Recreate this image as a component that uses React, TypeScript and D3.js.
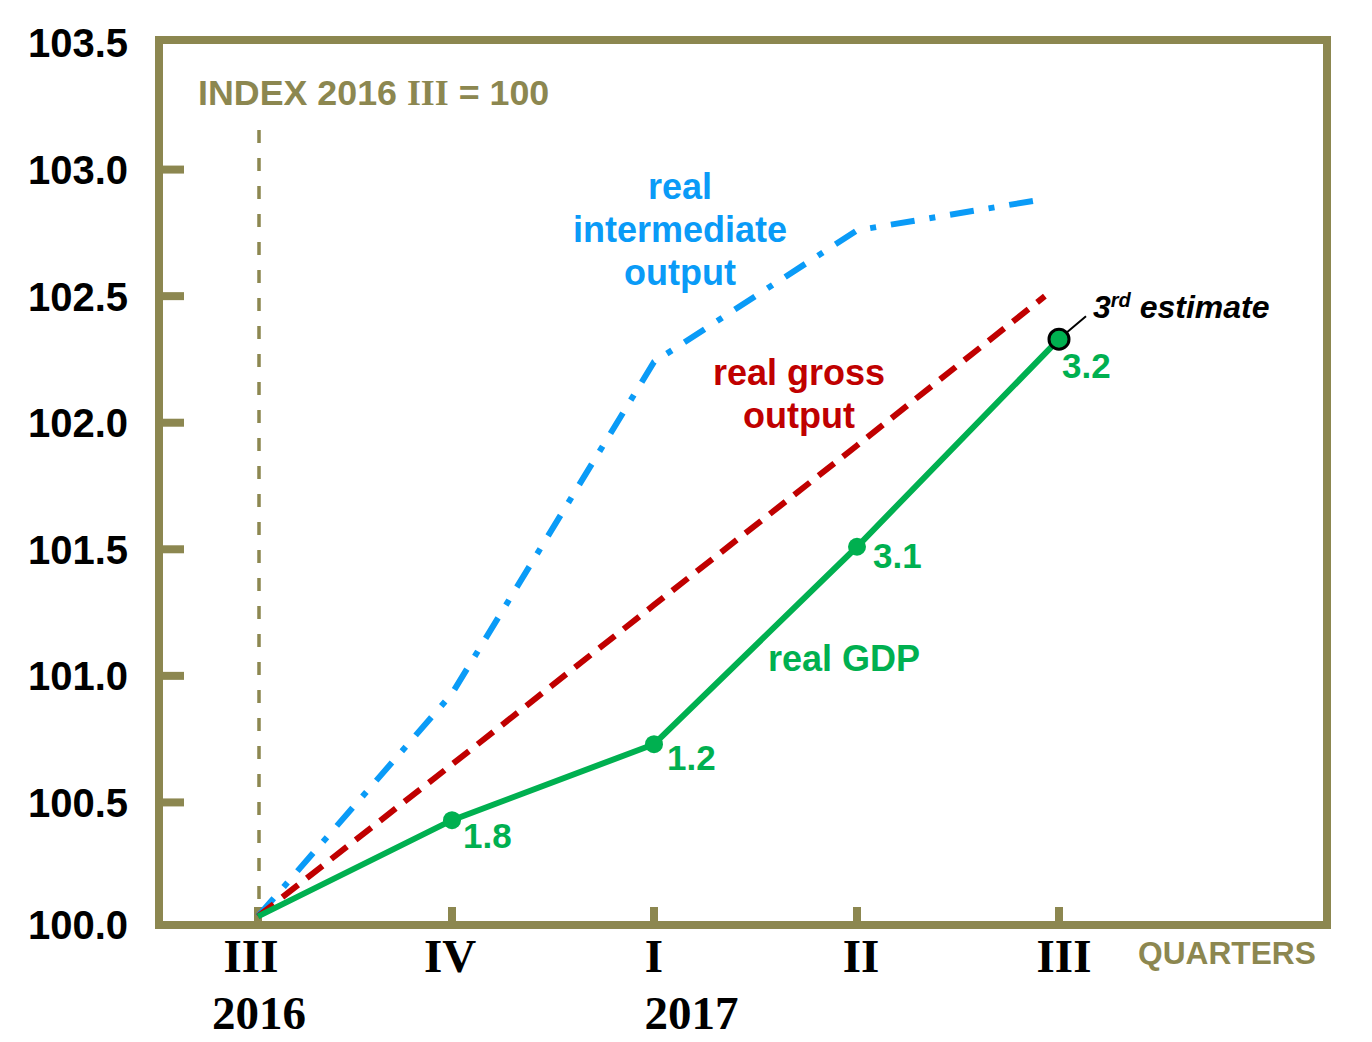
// GDP vs gross output vs intermediate output, index 2016 III = 100
import React, { useRef, useEffect } from 'react';
import * as d3 from 'd3';

interface point {
  q: number; // quarter index (0 = 2016 III)
  value: number;
}

const quarterLabels = ['III', 'IV', 'I', 'II', 'III'];
const yearLabels = [
  { q: 0, year: '2016' },
  { q: 2.18, year: '2017' },
];
const yTicks = [100.0, 100.5, 101.0, 101.5, 102.0, 102.5, 103.0, 103.5];

// real GDP index and growth labels
const gdpQuarters = [0, 1, 2, 3, 4];
const gdpValues = [100.05, 100.43, 100.73, 101.51, 102.33];
const gdpGrowth = ['', '1.8', '1.2', '3.1', '3.2'];

// real gross output
const grossQuarters = [0, 1, 2, 3, 3.93];
const grossValues = [100.05, 100.65, 101.28, 101.91, 102.5];

// real intermediate output
const interQuarters = [0, 1, 2, 3, 3.9];
const interValues = [100.05, 100.93, 102.24, 102.76, 102.88];

const toPoints = (qs: number[], vs: number[]): point[] => qs.map((q, i) => ({ q, value: vs[i] }));

const width = 1372;
const height = 1042;
const olive = '#8C8750';
const green = '#00B050';
const red = '#C00000';
const blue = '#0A9BF7';
const sans = '"Liberation Sans", Arial, sans-serif';
const serif = '"Liberation Serif", "Times New Roman", serif';

// offsets of the growth labels from their dots
const growthOffsets = [[0, 0], [11, 28], [13, 26], [16, 21], [3, 39]];
// small horizontal nudges of the quarter labels from their ticks
const quarterNudge = [-7, -2, 0, 4, 5];

const App: React.FC = () => {
  const svgRef = useRef<SVGSVGElement>(null);

  useEffect(() => {
    if (!svgRef.current) return;
    const svg = d3.select(svgRef.current);
    svg.selectAll('*').remove();

    // quarter axis is drawn slightly unevenly in the original
    const x = d3.scaleLinear().domain([0, 1, 2, 3, 4]).range([258, 452, 654, 857, 1059]);
    const y = d3.scaleLinear().domain([100, 103.5]).range([929, 43]);

    const frameL = 159, frameR = 1327, frameT = 40, frameB = 925;

    // frame
    svg.append('rect')
      .attr('x', frameL).attr('y', frameT)
      .attr('width', frameR - frameL).attr('height', frameB - frameT)
      .attr('fill', 'white').attr('stroke', olive).attr('stroke-width', 8);

    // y ticks & labels
    svg.append('g').selectAll('line')
      .data(yTicks.filter(t => t > 100 && t < 103.5))
      .join('line')
      .attr('x1', frameL).attr('x2', 184)
      .attr('y1', d => y(d)).attr('y2', d => y(d))
      .attr('stroke', olive).attr('stroke-width', 8);

    svg.append('g').selectAll('text')
      .data(yTicks)
      .join('text')
      .attr('x', 128).attr('y', d => Math.min(y(d), 925))
      .attr('dy', '0.36em')
      .attr('text-anchor', 'end')
      .attr('font-family', sans).attr('font-weight', 'bold').attr('font-size', 40)
      .attr('fill', 'black')
      .text(d => d.toFixed(1));

    // x ticks & labels
    svg.append('g').selectAll('line')
      .data(quarterLabels)
      .join('line')
      .attr('x1', (_, i) => x(i)).attr('x2', (_, i) => x(i))
      .attr('y1', frameB).attr('y2', frameB - 18)
      .attr('stroke', olive).attr('stroke-width', 8);

    svg.append('g').selectAll('text')
      .data(quarterLabels)
      .join('text')
      .attr('x', (_, i) => x(i) + quarterNudge[i]).attr('y', 972)
      .attr('text-anchor', 'middle')
      .attr('font-family', serif).attr('font-weight', 'bold').attr('font-size', 47)
      .text(d => d);

    svg.append('g').selectAll('text')
      .data(yearLabels)
      .join('text')
      .attr('x', d => x(d.q) + 1).attr('y', 1029)
      .attr('text-anchor', 'middle')
      .attr('font-family', serif).attr('font-weight', 'bold').attr('font-size', 47)
      .text(d => d.year);

    svg.append('text')
      .attr('x', 1138).attr('y', 964)
      .attr('font-family', sans).attr('font-weight', 'bold').attr('font-size', 31.7)
      .attr('fill', olive)
      .text('QUARTERS');

    // index note
    const idx = svg.append('text')
      .attr('x', 198).attr('y', 105)
      .attr('font-family', sans).attr('font-weight', 'bold').attr('font-size', 35.8)
      .attr('fill', olive);
    idx.append('tspan').text('INDEX 2016 ');
    idx.append('tspan').attr('font-family', serif).text('III');
    idx.append('tspan').text(' = 100');

    // base quarter dashed line
    svg.append('line')
      .attr('x1', x(0) + 1).attr('x2', x(0) + 1)
      .attr('y1', 130).attr('y2', 908)
      .attr('stroke', olive).attr('stroke-width', 3.5)
      .attr('stroke-dasharray', '13,15');

    const line = d3.line<point>().x(d => x(d.q)).y(d => y(d.value));

    // intermediate output
    svg.append('path')
      .attr('d', line(toPoints(interQuarters, interValues)))
      .attr('fill', 'none').attr('stroke', blue).attr('stroke-width', 6)
      .attr('stroke-dasharray', '24,15,6,15');

    // gross output
    svg.append('path')
      .attr('d', line(toPoints(grossQuarters, grossValues)))
      .attr('fill', 'none').attr('stroke', red).attr('stroke-width', 6)
      .attr('stroke-dasharray', '20,11');

    // GDP
    const gdp = toPoints(gdpQuarters, gdpValues);
    svg.append('path')
      .attr('d', line(gdp))
      .attr('fill', 'none').attr('stroke', green).attr('stroke-width', 6);

    svg.append('g').selectAll('circle')
      .data(gdp.slice(1))
      .join('circle')
      .attr('cx', d => x(d.q)).attr('cy', d => y(d.value))
      .attr('r', (_, i) => (i === 3 ? 10 : 9))
      .attr('fill', green)
      .attr('stroke', (_, i) => (i === 3 ? 'black' : 'none'))
      .attr('stroke-width', 3);

    svg.append('g').selectAll('text')
      .data(gdp)
      .join('text')
      .attr('x', (d, i) => x(d.q) + growthOffsets[i][0])
      .attr('y', (d, i) => y(d.value) + growthOffsets[i][1])
      .attr('font-family', sans).attr('font-weight', 'bold').attr('font-size', 35)
      .attr('fill', green)
      .text((_, i) => gdpGrowth[i]);

    // 3rd estimate callout
    const last = gdp[gdp.length - 1];
    svg.append('line')
      .attr('x1', x(last.q) + 8).attr('y1', y(last.value) - 7)
      .attr('x2', x(last.q) + 27).attr('y2', y(last.value) - 23)
      .attr('stroke', 'black').attr('stroke-width', 2);
    const est = svg.append('text')
      .attr('x', 1093).attr('y', 318)
      .attr('font-family', sans).attr('font-weight', 'bold').attr('font-style', 'italic')
      .attr('font-size', 32).attr('fill', 'black');
    est.append('tspan').text('3');
    est.append('tspan').attr('font-size', 20).attr('dy', -11).text('rd');
    est.append('tspan').attr('dy', 11).text(' estimate');

    // series labels
    const labels = [
      { lines: ['real', 'intermediate', 'output'], cx: 680, y0: 199, color: blue },
      { lines: ['real gross', 'output'], cx: 799, y0: 385, color: red },
      { lines: ['real GDP'], cx: 844, y0: 671, color: green },
    ];
    labels.forEach(l => {
      svg.append('g').selectAll('text')
        .data(l.lines)
        .join('text')
        .attr('x', l.cx).attr('y', (_, i) => l.y0 + i * 43)
        .attr('text-anchor', 'middle')
        .attr('font-family', sans).attr('font-weight', 'bold').attr('font-size', 36)
        .attr('fill', l.color)
        .text(d => d);
    });
  }, [svgRef]);

  return (
    <svg
      ref={svgRef}
      width={width}
      height={height}
      style={{ position: 'absolute', left: 0, top: 0, background: 'white' }}
    />
  );
};

export default App;
